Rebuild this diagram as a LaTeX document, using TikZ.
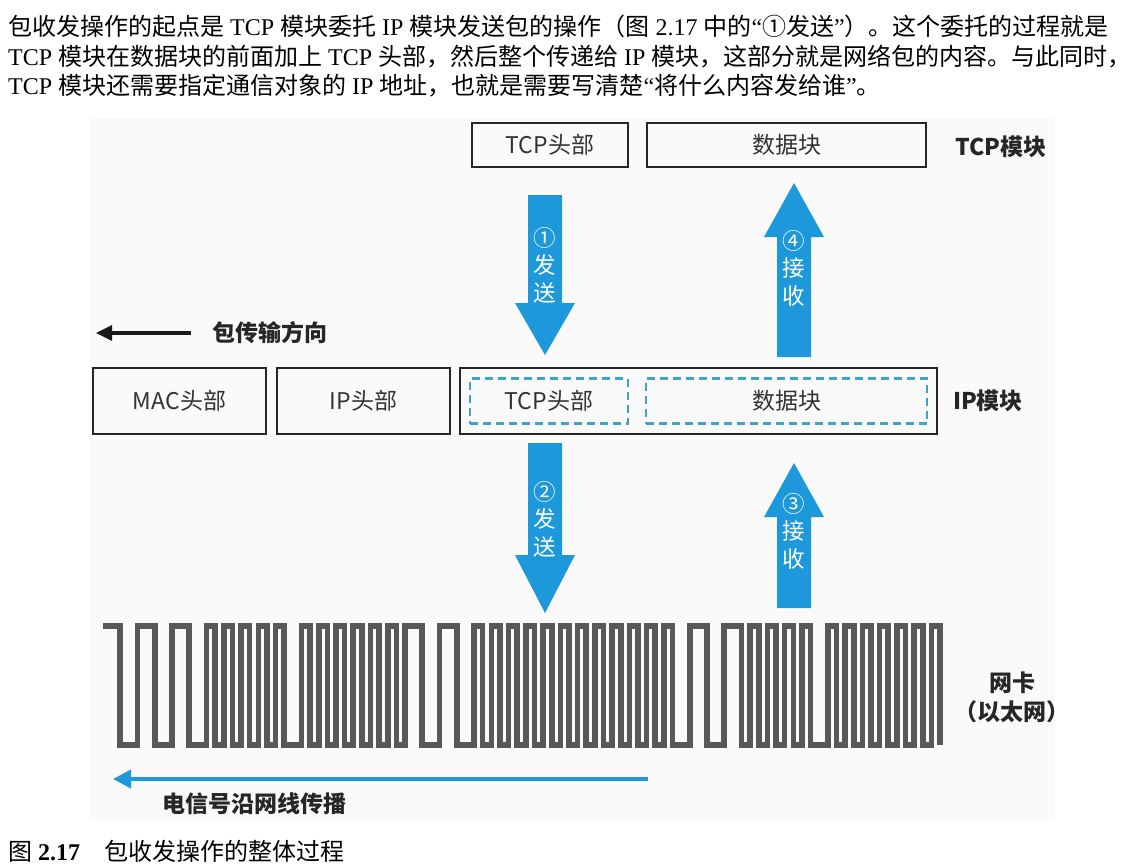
\documentclass[tikz,border=0pt]{standalone}
\usepackage{fontspec}
\setmainfont{Liberation Serif}
\newfontfamily\cjk{Noto Sans CJK SC}
\usetikzlibrary{arrows.meta}
\definecolor{arrowblue}{RGB}{28,152,219}
\definecolor{dashblue}{RGB}{62,164,204}
\definecolor{wavegray}{RGB}{88,88,88}
\newcommand\zh[1]{{\cjk #1}}
% block arrows: #1 centre x, #2 tail y, #3 head base y, #4 tip y
\newcommand\blockarrowpath[4]{%
  \fill[arrowblue] ({#1-17},#2) -- ({#1+17},#2) -- ({#1+17},#3) -- ({#1+30},#3)
    -- (#1,#4) -- ({#1-30},#3) -- ({#1-17},#3) -- cycle;}

\begin{document}
\begin{tikzpicture}[x=1pt,y=-1pt,
  body/.style={inner sep=0pt, anchor=base west, font=\fontsize{24}{28}\selectfont},
  field/.style={draw=black!85, line width=1.4pt, inner sep=0pt,
    font=\cjk\fontsize{23}{26}\selectfont, text=black!80},
  dfield/.style={draw=dashblue, line width=2.2pt, dash pattern=on 8pt off 5pt,
    inner sep=0pt, minimum height=45pt, font=\cjk\fontsize{23}{26}\selectfont, text=black!80},
  tag/.style={font=\cjk\bfseries\fontsize{23}{26}\selectfont, inner sep=0pt, text=black!85},
  arrowtext/.style={text=white, align=center, inner sep=0pt,
    font=\cjk\fontsize{22.5}{27.5}\selectfont},
]
\useasboundingbox (0,0) rectangle (1130,867);
\fill[black!2] (90,118) rectangle (1055,820);

% running text above the figure
\node[body] (line1) at (8,36) {\zh{包收发操作的起点是} TCP \zh{模块委托} IP \zh{模块发送包的操作（图} 2.17 \zh{中的}“\zh{①发送}”\zh{）。这个委托的过程就是}};
\node[body] (line2) at (8,66) {TCP \zh{模块在数据块的前面加上} TCP \zh{头部，然后整个传递给} IP \zh{模块，这部分就是网络包的内容。与此同时，}};
\node[body] (line3) at (8,94) {TCP \zh{模块还需要指定通信对象的} IP \zh{地址，也就是需要写清楚}“\zh{将什么内容发给谁}”\zh{。}};

% TCP module row
\node[field, minimum width=156pt, minimum height=44pt] (tcphdr) at (550,145) {TCP头部};
\node[field, minimum width=279pt, minimum height=44pt] (tcpdata) at (786.5,145) {数据块};
\node[tag] (tcpmod) at (1001,147) {TCP模块};

% send / receive between TCP and IP
\blockarrowpath{545}{195}{303}{355}
\node[arrowtext] (send1) at (545,265) {①\\发\\送};
\blockarrowpath{794}{357}{237}{183}
\node[arrowtext] (recv4) at (794,268) {④\\接\\收};

% packet direction
\coordinate (dirstart) at (191,333);
\coordinate (dirend) at (96,333);
\draw[black!90, line width=3.2pt, -{Triangle[length=16pt,width=15pt]}] (dirstart) -- (dirend);
\node[tag, anchor=west] (dirtext) at (212,333) {包传输方向};

% IP module row
\node[field, minimum width=173pt, minimum height=66pt] (machdr) at (179.5,401) {MAC头部};
\node[field, minimum width=173pt, minimum height=66pt] (iphdr) at (363.5,401) {IP头部};
\node[field, minimum width=477pt, minimum height=66pt] (ipbox) at (698.5,401) {};
\node[dfield, minimum width=158pt] (tcphdr2) at (549,401) {TCP头部};
\node[dfield, minimum width=281pt] (tcpdata2) at (786.5,401) {数据块};
\node[tag] (ipmod) at (988,401) {IP模块};

% send / receive between IP and the network card
\blockarrowpath{545}{443}{555}{613}
\node[arrowtext] (send2) at (545,519) {②\\发\\送};
\blockarrowpath{794}{608}{517}{463}
\node[arrowtext] (recv3) at (794,531) {③\\接\\收};

% line signal of the network card
\draw[wavegray, line width=5.6pt, line join=miter] (103,626)
  \foreach \w [count=\i] in {2,2,2,2,2,2,
    1,1,1,1,1,1,1,1,1, 2,
    1,1,1,1,1,1,1,1,1,1,1,1, 2,2,2,2,
    1,1,1,1,1,1,1,1,1,1,1,1,1,1,1,1,1,1,1,1,1,1,1, 2,2,2,2,
    1,1,1,1,1,1,1,1, 2,
    1,1,1,1,1,1,1,1,1,1,1,1,1}
  { -- ++({\w*8.629},0) -- ++(0,{119*(1-2*mod(\i+1,2))}) };
\node[tag, align=center, font=\cjk\bfseries\fontsize{23}{29}\selectfont] (nic) at (1012,697) {网卡\\（以太网）};

% propagation along the cable
\coordinate (sigstart) at (648,779);
\coordinate (sigend) at (113,779);
\draw[arrowblue, line width=4pt, -{Triangle[length=18pt,width=18pt]}] (sigstart) -- (sigend);
\node[tag, anchor=west] (sigtext) at (162,804) {电信号沿网线传播};

% caption
\node[body] (caption) at (8,860) {\zh{图} \textbf{2.17}\quad\zh{包收发操作的整体过程}};
\end{tikzpicture}
\end{document}
